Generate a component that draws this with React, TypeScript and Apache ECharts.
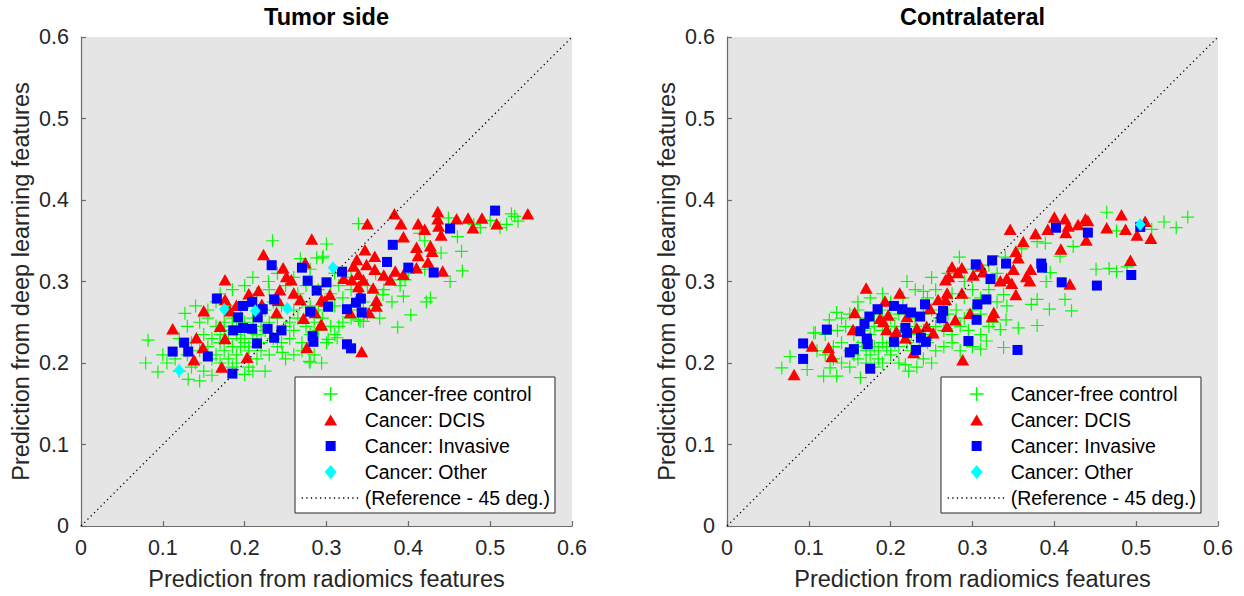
import React, { useEffect, useRef } from "react";
import * as echarts from "echarts";

const FONT = '"Liberation Sans", Arial, Helvetica, sans-serif';

const seriesNames = [
  "Cancer-free control",
  "Cancer: DCIS",
  "Cancer: Invasive",
  "Cancer: Other",
  "(Reference - 45 deg.)",
];
const panelTitles = ["Tumor side", "Contralateral"];
const xAxisName = "Prediction from radiomics features";
const yAxisName = "Prediction from deep learning features";
const referenceLine = [
  [0, 0],
  [0.6, 0.6],
];

// Tumor side
const leftControl = [
  [0.234, 0.35], [0.268, 0.328], [0.229, 0.3], [0.127, 0.261], [0.082, 0.228], [0.079, 0.2],
  [0.094, 0.189], [0.105, 0.2], [0.131, 0.18], [0.145, 0.178], [0.2, 0.186], [0.246, 0.213],
  [0.279, 0.202], [0.288, 0.329], [0.339, 0.371], [0.3, 0.346], [0.296, 0.331], [0.449, 0.378],
  [0.526, 0.383], [0.534, 0.374], [0.512, 0.366], [0.488, 0.366], [0.465, 0.337], [0.466, 0.313],
  [0.451, 0.3], [0.414, 0.359], [0.369, 0.284], [0.394, 0.282], [0.427, 0.28], [0.422, 0.275],
  [0.403, 0.259], [0.387, 0.244], [0.345, 0.251], [0.339, 0.253], [0.315, 0.245], [0.313, 0.231],
  [0.302, 0.229], [0.294, 0.2], [0.396, 0.302], [0.39, 0.302], [0.28, 0.201], [0.295, 0.329],
  [0.341, 0.251],
  [0.12, 0.19], [0.135, 0.195], [0.15, 0.19], [0.16, 0.185], [0.17, 0.2], [0.185, 0.195],
  [0.19, 0.2], [0.205, 0.195], [0.21, 0.19], [0.225, 0.19], [0.16, 0.205], [0.14, 0.2],
  [0.1, 0.21], [0.115, 0.205], [0.13, 0.21], [0.145, 0.215], [0.155, 0.22], [0.165, 0.21],
  [0.175, 0.215], [0.18, 0.205], [0.19, 0.21], [0.195, 0.22], [0.205, 0.215], [0.215, 0.205],
  [0.22, 0.215], [0.23, 0.21], [0.24, 0.22], [0.25, 0.205], [0.26, 0.21], [0.27, 0.215],
  [0.285, 0.21], [0.17, 0.225], [0.185, 0.22], [0.2, 0.225],
  [0.12, 0.23], [0.135, 0.225], [0.15, 0.235], [0.16, 0.23], [0.17, 0.235], [0.175, 0.24],
  [0.18, 0.23], [0.19, 0.235], [0.195, 0.23], [0.2, 0.24], [0.21, 0.23], [0.215, 0.235],
  [0.22, 0.225], [0.225, 0.24], [0.235, 0.23], [0.24, 0.235], [0.245, 0.225], [0.255, 0.23],
  [0.26, 0.24], [0.27, 0.225], [0.28, 0.235], [0.29, 0.24], [0.3, 0.225], [0.31, 0.235],
  [0.205, 0.22], [0.185, 0.245],
  [0.13, 0.245], [0.145, 0.25], [0.155, 0.255], [0.165, 0.245], [0.175, 0.25], [0.185, 0.255],
  [0.19, 0.245], [0.2, 0.25], [0.21, 0.255], [0.22, 0.245], [0.23, 0.25], [0.24, 0.255],
  [0.25, 0.245], [0.255, 0.25], [0.265, 0.255], [0.275, 0.245], [0.285, 0.25], [0.295, 0.255],
  [0.305, 0.245], [0.32, 0.25], [0.33, 0.255], [0.35, 0.26], [0.365, 0.255],
  [0.14, 0.27], [0.155, 0.265], [0.165, 0.275], [0.18, 0.27], [0.195, 0.265], [0.205, 0.275],
  [0.215, 0.27], [0.225, 0.265], [0.235, 0.275], [0.245, 0.27], [0.26, 0.265], [0.27, 0.275],
  [0.28, 0.27], [0.29, 0.265], [0.3, 0.275], [0.31, 0.27], [0.32, 0.28], [0.33, 0.265],
  [0.345, 0.275], [0.36, 0.27], [0.38, 0.275],
  [0.17, 0.285], [0.185, 0.29], [0.2, 0.295], [0.215, 0.285], [0.23, 0.29], [0.25, 0.295],
  [0.265, 0.285], [0.275, 0.295], [0.29, 0.29], [0.305, 0.285], [0.315, 0.295], [0.33, 0.29],
  [0.35, 0.295], [0.37, 0.29], [0.39, 0.295],
  [0.21, 0.305], [0.24, 0.31], [0.26, 0.305], [0.28, 0.315], [0.31, 0.31], [0.33, 0.305],
  [0.36, 0.31], [0.4, 0.31], [0.42, 0.315], [0.44, 0.335], [0.46, 0.355], [0.42, 0.35],
  [0.5, 0.375], [0.52, 0.37], [0.53, 0.38], [0.48, 0.37],
];

const leftDcis = [
  [0.282, 0.352], [0.223, 0.333], [0.247, 0.317], [0.251, 0.306], [0.257, 0.302], [0.176, 0.302],
  [0.217, 0.289], [0.205, 0.285], [0.243, 0.29], [0.26, 0.286], [0.274, 0.323], [0.176, 0.278],
  [0.15, 0.264], [0.19, 0.271], [0.239, 0.262], [0.268, 0.278], [0.294, 0.278], [0.286, 0.262],
  [0.272, 0.255], [0.182, 0.264], [0.17, 0.245], [0.293, 0.247], [0.112, 0.242], [0.141, 0.231],
  [0.176, 0.23], [0.149, 0.219], [0.138, 0.204], [0.172, 0.195], [0.203, 0.207], [0.276, 0.219],
  [0.241, 0.277], [0.221, 0.272],
  [0.436, 0.386], [0.459, 0.377], [0.473, 0.378], [0.49, 0.378], [0.546, 0.383], [0.508, 0.371],
  [0.479, 0.366], [0.436, 0.377], [0.437, 0.368], [0.44, 0.357], [0.412, 0.371], [0.42, 0.364],
  [0.383, 0.383], [0.35, 0.371], [0.391, 0.371], [0.394, 0.355], [0.41, 0.342], [0.427, 0.344],
  [0.412, 0.332], [0.429, 0.337], [0.424, 0.324], [0.41, 0.317], [0.442, 0.313], [0.394, 0.309],
  [0.384, 0.313], [0.378, 0.302], [0.37, 0.308], [0.347, 0.339], [0.359, 0.331], [0.337, 0.327],
  [0.333, 0.319], [0.349, 0.321], [0.359, 0.315], [0.339, 0.309], [0.331, 0.302], [0.345, 0.302],
  [0.339, 0.294], [0.357, 0.292], [0.361, 0.277], [0.361, 0.27], [0.329, 0.262], [0.352, 0.262],
  [0.304, 0.284], [0.298, 0.276], [0.294, 0.247], [0.343, 0.214], [0.321, 0.304], [0.341, 0.284],
];

const leftInvasive = [
  [0.233, 0.32], [0.27, 0.317], [0.166, 0.279], [0.277, 0.301], [0.288, 0.289], [0.3, 0.299],
  [0.198, 0.27], [0.209, 0.275], [0.222, 0.266], [0.236, 0.278], [0.192, 0.256], [0.28, 0.263],
  [0.302, 0.269], [0.216, 0.256], [0.186, 0.24], [0.198, 0.243], [0.209, 0.242], [0.228, 0.242],
  [0.245, 0.24], [0.236, 0.231], [0.215, 0.224], [0.283, 0.233], [0.284, 0.226], [0.126, 0.225],
  [0.112, 0.214], [0.131, 0.214], [0.155, 0.208], [0.185, 0.187], [0.506, 0.387], [0.451, 0.365],
  [0.381, 0.345], [0.374, 0.324], [0.4, 0.317], [0.431, 0.311], [0.319, 0.312], [0.342, 0.279],
  [0.336, 0.274], [0.325, 0.266], [0.343, 0.262], [0.325, 0.223], [0.33, 0.218],
];

const leftOther = [
  [0.175, 0.266], [0.213, 0.264], [0.252, 0.267], [0.12, 0.191], [0.308, 0.317],
];

// Contralateral
const rightControl = [
  [0.464, 0.385], [0.534, 0.373], [0.549, 0.366], [0.563, 0.379], [0.476, 0.362], [0.519, 0.364],
  [0.451, 0.315], [0.467, 0.316], [0.476, 0.312], [0.489, 0.318], [0.423, 0.343], [0.407, 0.331],
  [0.389, 0.347], [0.379, 0.349], [0.395, 0.311], [0.39, 0.3], [0.413, 0.278], [0.421, 0.264],
  [0.394, 0.266], [0.379, 0.278], [0.372, 0.272], [0.379, 0.246], [0.356, 0.243], [0.338, 0.219],
  [0.31, 0.217], [0.317, 0.227], [0.342, 0.27], [0.338, 0.284], [0.341, 0.253], [0.334, 0.241],
  [0.284, 0.33], [0.24, 0.288], [0.134, 0.262], [0.125, 0.253], [0.106, 0.237], [0.077, 0.208],
  [0.067, 0.194], [0.118, 0.184], [0.134, 0.184], [0.163, 0.182], [0.126, 0.194], [0.098, 0.192],
  [0.218, 0.198], [0.232, 0.195], [0.222, 0.19], [0.108, 0.237],
  [0.14, 0.2], [0.15, 0.195], [0.16, 0.205], [0.17, 0.2], [0.18, 0.195], [0.185, 0.205],
  [0.19, 0.2], [0.2, 0.21], [0.21, 0.2], [0.24, 0.205], [0.25, 0.2], [0.155, 0.21],
  [0.13, 0.205], [0.12, 0.21],
  [0.11, 0.215], [0.13, 0.22], [0.14, 0.225], [0.15, 0.215], [0.16, 0.22], [0.165, 0.225],
  [0.17, 0.215], [0.18, 0.22], [0.185, 0.215], [0.19, 0.225], [0.195, 0.22], [0.2, 0.215],
  [0.205, 0.225], [0.21, 0.22], [0.22, 0.225], [0.225, 0.215], [0.235, 0.22], [0.245, 0.225],
  [0.255, 0.215], [0.265, 0.22], [0.275, 0.225], [0.285, 0.215], [0.3, 0.22], [0.175, 0.21],
  [0.12, 0.235], [0.135, 0.24], [0.145, 0.245], [0.155, 0.235], [0.165, 0.24], [0.175, 0.235],
  [0.18, 0.245], [0.19, 0.24], [0.2, 0.235], [0.205, 0.245], [0.215, 0.24], [0.225, 0.235],
  [0.23, 0.245], [0.24, 0.24], [0.25, 0.235], [0.255, 0.245], [0.265, 0.24], [0.275, 0.235],
  [0.285, 0.245], [0.295, 0.24], [0.31, 0.235], [0.32, 0.245],
  [0.14, 0.255], [0.15, 0.26], [0.16, 0.265], [0.17, 0.255], [0.18, 0.26], [0.19, 0.265],
  [0.2, 0.255], [0.21, 0.26], [0.22, 0.265], [0.23, 0.255], [0.24, 0.26], [0.25, 0.265],
  [0.26, 0.255], [0.27, 0.26], [0.28, 0.265], [0.29, 0.255], [0.3, 0.265], [0.31, 0.26],
  [0.325, 0.25],
  [0.16, 0.275], [0.175, 0.28], [0.19, 0.285], [0.2, 0.275], [0.215, 0.28], [0.23, 0.29],
  [0.245, 0.28], [0.255, 0.29], [0.265, 0.275], [0.275, 0.285], [0.29, 0.28], [0.3, 0.29],
  [0.31, 0.28], [0.32, 0.29], [0.33, 0.275],
  [0.22, 0.3], [0.25, 0.305], [0.27, 0.31], [0.29, 0.3], [0.3, 0.315], [0.32, 0.32],
  [0.34, 0.33], [0.36, 0.34], [0.33, 0.31],
];

const rightDcis = [
  [0.17, 0.292], [0.211, 0.286], [0.156, 0.262], [0.193, 0.276], [0.197, 0.259], [0.191, 0.251],
  [0.195, 0.241], [0.207, 0.239], [0.218, 0.231], [0.154, 0.241], [0.124, 0.219], [0.128, 0.208],
  [0.104, 0.221], [0.082, 0.186], [0.228, 0.213], [0.232, 0.243], [0.252, 0.237], [0.244, 0.245],
  [0.269, 0.245], [0.279, 0.253], [0.248, 0.267], [0.258, 0.278], [0.267, 0.278], [0.269, 0.286],
  [0.287, 0.286], [0.297, 0.261], [0.267, 0.302], [0.271, 0.306], [0.275, 0.318], [0.287, 0.317],
  [0.282, 0.311], [0.288, 0.204], [0.22, 0.257], [0.187, 0.255],
  [0.4, 0.379], [0.413, 0.377], [0.438, 0.377], [0.441, 0.375], [0.429, 0.37], [0.417, 0.368],
  [0.414, 0.36], [0.482, 0.382], [0.464, 0.366], [0.487, 0.364], [0.511, 0.374], [0.501, 0.357],
  [0.518, 0.353], [0.439, 0.351], [0.392, 0.364], [0.377, 0.359], [0.346, 0.364], [0.362, 0.349],
  [0.408, 0.34], [0.353, 0.337], [0.356, 0.329], [0.35, 0.315], [0.371, 0.315], [0.366, 0.306],
  [0.37, 0.301], [0.342, 0.304], [0.348, 0.298], [0.334, 0.301], [0.419, 0.297], [0.353, 0.284],
  [0.493, 0.326], [0.31, 0.319], [0.301, 0.308], [0.313, 0.312], [0.326, 0.262], [0.324, 0.257],
];

const rightInvasive = [
  [0.304, 0.321], [0.242, 0.272], [0.204, 0.27], [0.214, 0.266], [0.184, 0.266], [0.225, 0.262],
  [0.236, 0.257], [0.174, 0.257], [0.168, 0.248], [0.163, 0.239], [0.122, 0.241], [0.218, 0.243],
  [0.22, 0.237], [0.171, 0.23], [0.172, 0.223], [0.204, 0.226], [0.237, 0.231], [0.243, 0.226],
  [0.231, 0.216], [0.155, 0.217], [0.15, 0.213], [0.093, 0.224], [0.093, 0.205], [0.175, 0.193],
  [0.264, 0.264], [0.262, 0.255], [0.295, 0.227], [0.305, 0.253], [0.306, 0.272],
  [0.402, 0.366], [0.441, 0.36], [0.505, 0.367], [0.324, 0.326], [0.341, 0.322], [0.384, 0.322],
  [0.385, 0.317], [0.322, 0.303], [0.409, 0.299], [0.452, 0.295], [0.494, 0.308], [0.317, 0.278],
  [0.355, 0.216],
];

const rightOther = [[0.505, 0.37]];

const crossIcon = "path://M0,7L14,7M7,0L7,14";
const triangleIcon = "path://M0,0M14,14M0.5,12.5L7,1.5L13.5,12.5Z";
const squareIcon = "path://M0,0M14,14M2,2L12,2L12,12L2,12Z";
const diamondIcon = "path://M0,0M14,14M7,0L13,7L7,14L1,7Z";

const GREEN = "#00ff00";
const RED = "#ff0000";
const BLUE = "#0000ff";
const CYAN = "#00ffff";
const AXIS_COLOR = "#6b6b6b";
const TEXT_COLOR = "#262626";
const DOTTED = { color: "#000", width: 1.3, type: [1.3, 3.3] };

function makeXAxis(gridIndex: number) {
  return {
    type: "value",
    gridIndex,
    min: 0,
    max: 0.6,
    interval: 0.1,
    name: xAxisName,
    nameLocation: "middle",
    nameGap: 41,
    nameTextStyle: { fontSize: 23.5, color: TEXT_COLOR, fontFamily: FONT },
    axisLine: { show: true, lineStyle: { color: AXIS_COLOR, width: 1.2 } },
    axisTick: { show: true, inside: true, length: 5, lineStyle: { color: AXIS_COLOR, width: 1.2 } },
    axisLabel: { fontSize: 21.5, color: TEXT_COLOR, fontFamily: FONT, margin: 11 },
    splitLine: { show: false },
  };
}

function makeYAxis(gridIndex: number) {
  return {
    type: "value",
    gridIndex,
    min: 0,
    max: 0.6,
    interval: 0.1,
    name: yAxisName,
    nameLocation: "middle",
    nameGap: 48,
    nameTextStyle: { fontSize: 23.5, color: TEXT_COLOR, fontFamily: FONT },
    axisLine: { show: true, lineStyle: { color: AXIS_COLOR, width: 1.2 } },
    axisTick: { show: true, inside: true, length: 5, lineStyle: { color: AXIS_COLOR, width: 1.2 } },
    axisLabel: { fontSize: 21.5, color: TEXT_COLOR, fontFamily: FONT, margin: 12 },
    splitLine: { show: false },
  };
}

function panelSeries(
  idx: number,
  control: number[][],
  dcis: number[][],
  invasive: number[][],
  other: number[][]
) {
  const common = { xAxisIndex: idx, yAxisIndex: idx, silent: true, emphasis: { disabled: true } };
  return [
    {
      ...common,
      type: "scatter",
      name: seriesNames[0],
      data: control,
      symbol: crossIcon,
      symbolSize: 13,
      itemStyle: { color: "rgba(0,0,0,0)", borderColor: GREEN, borderWidth: 1.2, opacity: 1 },
      z: 2,
    },
    {
      ...common,
      type: "scatter",
      name: seriesNames[1],
      data: dcis,
      symbol: "triangle",
      symbolSize: [13, 11.5],
      itemStyle: { color: RED, opacity: 1 },
      z: 3,
    },
    {
      ...common,
      type: "scatter",
      name: seriesNames[2],
      data: invasive,
      symbol: "rect",
      symbolSize: 10,
      itemStyle: { color: BLUE, opacity: 1 },
      z: 4,
    },
    {
      ...common,
      type: "scatter",
      name: seriesNames[3],
      data: other,
      symbol: "diamond",
      symbolSize: [10.5, 13],
      itemStyle: { color: CYAN, opacity: 1 },
      z: 5,
    },
    {
      ...common,
      type: "line",
      name: seriesNames[4],
      data: referenceLine,
      symbol: "none",
      itemStyle: { color: "rgba(0,0,0,0)" },
      lineStyle: DOTTED,
      z: 6,
    },
  ];
}

function makeLegend(left: number) {
  return {
    left,
    top: 377,
    orient: "vertical",
    itemWidth: 58,
    itemHeight: 14,
    itemGap: 6,
    padding: [7, 5, 5, 6],
    backgroundColor: "#ffffff",
    borderColor: "#262626",
    borderWidth: 1,
    selectedMode: false,
    textStyle: { fontSize: 19.5, color: "#000", fontFamily: FONT },
    data: [
      {
        name: seriesNames[0],
        icon: crossIcon,
        itemStyle: { color: "rgba(0,0,0,0)", borderColor: GREEN, borderWidth: 1.4, opacity: 1 },
      },
      { name: seriesNames[1], icon: triangleIcon, itemStyle: { color: RED, borderWidth: 0, opacity: 1 } },
      { name: seriesNames[2], icon: squareIcon, itemStyle: { color: BLUE, borderWidth: 0, opacity: 1 } },
      { name: seriesNames[3], icon: diamondIcon, itemStyle: { color: CYAN, borderWidth: 0, opacity: 1 } },
      {
        name: seriesNames[4],
        itemStyle: { color: "rgba(0,0,0,0)", borderColor: "rgba(0,0,0,0)", borderWidth: 0 },
        lineStyle: { ...DOTTED, opacity: 1 },
      },
    ],
    z: 10,
  };
}

export default function App() {
  const ref = useRef<HTMLDivElement>(null);

  useEffect(() => {
    if (!ref.current) return;
    const chart = echarts.init(ref.current, null, { renderer: "svg" });
    const titleStyle = { fontSize: 23.5, fontWeight: "bold", color: "#000", fontFamily: FONT };
    chart.setOption({
      animation: false,
      backgroundColor: "#ffffff",
      title: [
        { text: panelTitles[0], left: 326.5, top: 5, textAlign: "center", padding: 0, textStyle: titleStyle },
        { text: panelTitles[1], left: 972.5, top: 5, textAlign: "center", padding: 0, textStyle: titleStyle },
      ],
      legend: [makeLegend(295), makeLegend(941)],
      grid: [
        { left: 81, top: 37, width: 491, height: 490, show: true, backgroundColor: "#e5e5e5", borderWidth: 0 },
        { left: 727, top: 37, width: 491, height: 490, show: true, backgroundColor: "#e5e5e5", borderWidth: 0 },
      ],
      xAxis: [makeXAxis(0), makeXAxis(1)],
      yAxis: [makeYAxis(0), makeYAxis(1)],
      series: [
        ...panelSeries(0, leftControl, leftDcis, leftInvasive, leftOther),
        ...panelSeries(1, rightControl, rightDcis, rightInvasive, rightOther),
      ],
    });
    return () => chart.dispose();
  }, []);

  return (
    <div
      ref={ref}
      style={{ position: "fixed", left: 0, top: 0, width: 1244, height: 596, background: "#fff" }}
    />
  );
}
